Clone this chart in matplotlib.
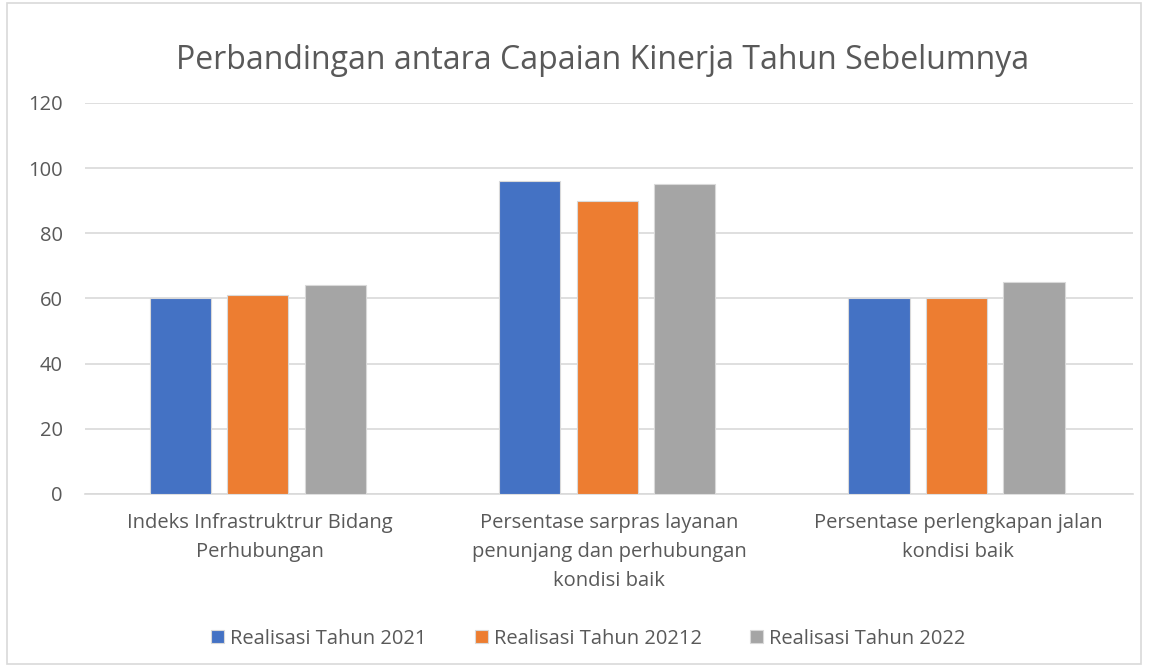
import matplotlib.pyplot as plt
import numpy as np
from matplotlib.patches import Rectangle

plt.rcParams['font.family'] = ['Open Sans', 'DejaVu Sans']

# data
categories = [
    "Indeks Infrastruktrur Bidang\nPerhubungan",
    "Persentase sarpras layanan\npenunjang dan perhubungan\nkondisi baik",
    "Persentase perlengkapan jalan\nkondisi baik",
]
series_names = ["Realisasi Tahun 2021", "Realisasi Tahun 20212", "Realisasi Tahun 2022"]
real_2021 = [60, 96, 60]
real_20212 = [61, 90, 60]
real_2022 = [64, 95, 65]
colors = ["#4472C4", "#ED7D31", "#A5A5A5"]
text_color = "#595959"

fig = plt.figure(figsize=(11.49, 6.70), dpi=100)
ax = fig.add_axes([0.074, 0.2627, 0.912, 0.5836])

# outer chart border
fig.patches.append(Rectangle((7 / 1149, 1 - 664 / 670), 1134 / 1149, 661 / 670,
                             transform=fig.transFigure, fill=False,
                             edgecolor="#D9D9D9", linewidth=1.2))

x = np.arange(len(categories))
width = 0.175
step = 0.222
for i, (vals, name, c) in enumerate(zip([real_2021, real_20212, real_2022], series_names, colors)):
    ax.bar(x + (i - 1) * step - 0.005, vals, width, color=c, label=name,
           edgecolor="#D9D9D9", linewidth=0.8, zorder=3)

ax.set_xlim(-0.5, 2.5)
ax.set_ylim(0, 120)
ax.set_yticks(range(0, 121, 20))
ax.yaxis.grid(True, color="#D9D9D9", linewidth=1.2, zorder=0)
ax.set_axisbelow(True)
for s in ["top", "right", "left"]:
    ax.spines[s].set_visible(False)
ax.spines["bottom"].set_color("#D9D9D9")
ax.spines["bottom"].set_linewidth(1.2)
ax.tick_params(axis="both", length=0, labelsize=14.5, colors=text_color)
ax.tick_params(axis="y", pad=16)
ax.tick_params(axis="x", pad=14)
ax.set_xticks(x)
ax.set_xticklabels(categories, linespacing=1.6)

fig.text(0.5245, 0.91, "Perbandingan antara Capaian Kinerja Tahun Sebelumnya",
         ha="center", va="center", fontsize=23, color=text_color)

fig.legend(loc="center", bbox_to_anchor=(0.512, 0.047), ncol=3, frameon=False,
           fontsize=14.5, labelcolor=text_color, handlelength=0.65, handleheight=0.65,
           handletextpad=0.3, columnspacing=2.4)

fig.savefig("out.png", dpi=100)
